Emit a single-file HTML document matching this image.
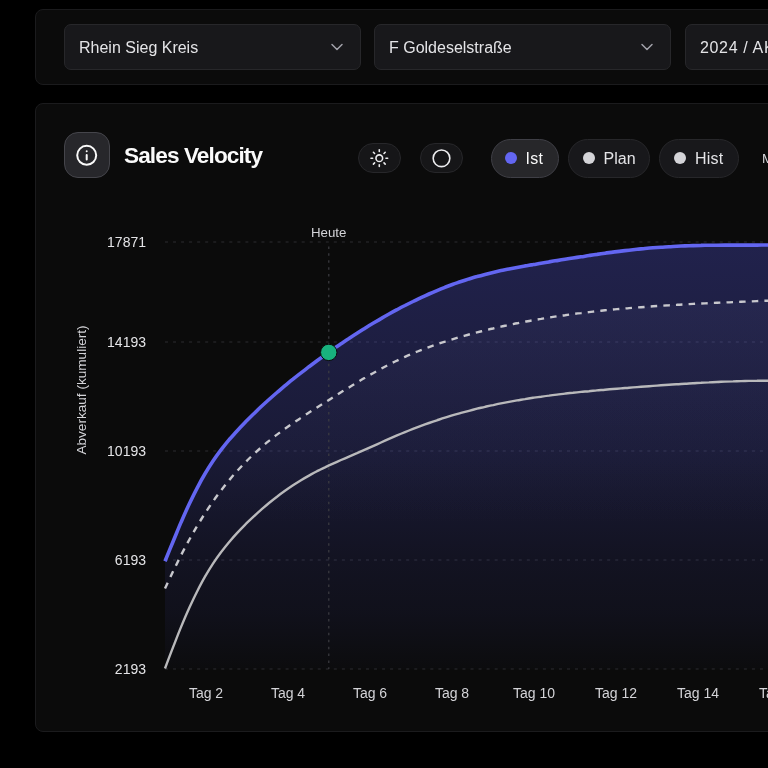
<!DOCTYPE html>
<html lang="de">
<head>
<meta charset="utf-8">
<title>Sales Velocity</title>
<style>
  * { box-sizing: border-box; margin: 0; padding: 0; }
  html, body { width: 768px; height: 768px; overflow: hidden; background: #000; }
  body { font-family: "Liberation Sans", sans-serif; color: #e4e4e7; position: relative; }
  .panel { position: absolute; background: #0b0b0b; border: 1px solid #1b1b1d; border-radius: 8px; }
  #filters { left: 35px; top: 9px; width: 800px; height: 76px; }
  #card { left: 35px; top: 103px; width: 800px; height: 629px; }
  .select { position: absolute; top: 24px; height: 46px; width: 297px; background: #18181b; border: 1px solid #27272a; border-radius: 7px; font-size: 16px; line-height: 46.2px; padding-left: 14px; color: #e4e4e7; white-space: nowrap; overflow: hidden; }
  .select svg { position: absolute; right: 16px; top: 15.3px; }
  #s1 { left: 64px; }
  #s2 { left: 374px; }
  #s3 { left: 685px; width: 200px; letter-spacing: 0.65px; }
  #info { position: absolute; left: 64px; top: 132px; width: 46px; height: 46px; background: #27272b; border: 1px solid #45454b; border-radius: 14px; }
  #info svg { position: absolute; left: 10px; top: 10px; }
  h1 { position: absolute; left: 124px; top: 142.6px; font-size: 22.6px; line-height: 26px; font-weight: bold; letter-spacing: -0.9px; color: #fafafa; white-space: nowrap; }
  .ipill { position: absolute; top: 143px; height: 30px; width: 43px; border-radius: 15px; background: #161618; border: 1px solid #27272a; }
  .ipill svg { position: absolute; left: 10px; top: 4px; }
  .pill { position: absolute; top: 139px; height: 39px; border-radius: 20px; background: #18181b; border: 1px solid #27272a; font-size: 16px; line-height: 37.6px; color: #e4e4e7; white-space: nowrap; }
  .pill.on { background: #27272a; border-color: #3f3f46; color: #fafafa; }
  .pill i { position: absolute; left: 13.5px; top: 11.8px; width: 12px; height: 12px; border-radius: 50%; background: #d4d4d8; }
  .pill span { position: absolute; left: 34.6px; top: 0; }
  #more { position: absolute; left: 762px; top: 150.6px; font-size: 13.5px; line-height: 16px; color: #d4d4d8; white-space: nowrap; }
  svg text { font-family: "Liberation Sans", sans-serif; }
  #chart { position: absolute; left: 0; top: 0; }
  #root { position: absolute; left: 0; top: 0; width: 768px; height: 768px; overflow: hidden; will-change: transform; transform: translateZ(0); }
</style>
</head>
<body>
<div id="root">
  <div class="panel" id="filters"></div>
  <div class="select" id="s1">Rhein Sieg Kreis
    <svg width="14" height="14" viewBox="0 0 14 14" fill="none" stroke="#a1a1aa" stroke-width="1.5" stroke-linecap="round" stroke-linejoin="round"><path d="M2 4.5l5 5 5-5"/></svg>
  </div>
  <div class="select" id="s2">F Goldeselstraße
    <svg width="14" height="14" viewBox="0 0 14 14" fill="none" stroke="#a1a1aa" stroke-width="1.5" stroke-linecap="round" stroke-linejoin="round"><path d="M2 4.5l5 5 5-5"/></svg>
  </div>
  <div class="select" id="s3">2024 / AKTION</div>

  <div class="panel" id="card"></div>
  <div id="info">
    <svg width="24" height="24" viewBox="0.3 -0.3 24 24" fill="none" stroke="#fafafa" stroke-width="2" stroke-linecap="round" stroke-linejoin="round"><circle cx="12" cy="12" r="9.5"/><path d="M12 16.2v-4.4"/><path d="M12 8h.01"/></svg>
  </div>
  <h1>Sales Velocity</h1>

  <div class="ipill" style="left:358px">
    <svg width="20" height="20" viewBox="-0.36 -0.24 24 24" fill="none" stroke="#ececee" stroke-width="1.9" stroke-linecap="round" stroke-linejoin="round"><circle cx="12" cy="12" r="4"/><path d="M12 2v2"/><path d="M12 20v2"/><path d="m4.93 4.93 1.41 1.41"/><path d="m17.66 17.66 1.41 1.41"/><path d="M2 12h2"/><path d="M20 12h2"/><path d="m6.34 17.66-1.41 1.41"/><path d="m19.07 4.93-1.41 1.41"/></svg>
  </div>
  <div class="ipill" style="left:420px">
    <svg width="20" height="20" viewBox="-0.6 -0.36 24 24" fill="none" stroke="#ececee" stroke-width="1.9" stroke-linecap="round" stroke-linejoin="round"><circle cx="12" cy="12" r="10"/></svg>
  </div>

  <div class="pill on" style="left:490.5px;width:68px"><i style="background:#6366f1;left:13px"></i><span style="letter-spacing:.3px;left:34px">Ist</span></div>
  <div class="pill" style="left:568px;width:82px"><i></i><span>Plan</span></div>
  <div class="pill" style="left:659px;width:80px"><i></i><span style="letter-spacing:.25px;left:35px">Hist</span></div>
  <div id="more">Mehr</div>

  <svg id="chart" width="768" height="768" viewBox="0 0 768 768">
    <defs>
      <linearGradient id="gIst" x1="0" y1="242" x2="0" y2="669" gradientUnits="userSpaceOnUse">
        <stop offset="0" stop-color="#5a5df5" stop-opacity="0.28"/>
        <stop offset="0.49" stop-color="#5a5df5" stop-opacity="0.185"/>
        <stop offset="0.74" stop-color="#5a5df5" stop-opacity="0.098"/>
        <stop offset="0.87" stop-color="#5a5df5" stop-opacity="0.068"/>
        <stop offset="1" stop-color="#5a5df5" stop-opacity="0.012"/>
      </linearGradient>
      <linearGradient id="gPlan" x1="0" y1="300" x2="0" y2="520" gradientUnits="userSpaceOnUse">
        <stop offset="0" stop-color="#a9aef0" stop-opacity="0.05"/>
        <stop offset="1" stop-color="#a9aef0" stop-opacity="0"/>
      </linearGradient>
      <linearGradient id="gHist" x1="0" y1="380" x2="0" y2="540" gradientUnits="userSpaceOnUse">
        <stop offset="0" stop-color="#818cf8" stop-opacity="0.018"/>
        <stop offset="1" stop-color="#818cf8" stop-opacity="0"/>
      </linearGradient>
      <clipPath id="clip"><rect x="165" y="200" width="603" height="470"/></clipPath>
    </defs>
    <!-- grid -->
    <g stroke="#2d2d31" stroke-width="1" stroke-dasharray="3 5.04" fill="none">
      <path d="M165 242H768"/>
      <path d="M165 342H768"/>
      <path d="M165 451H768"/>
      <path d="M165 560H768"/>
      <path d="M165 669H768"/>
    </g>
    <g clip-path="url(#clip)">
      <path d="M165.0,561.2C166.3,558.0 170.3,548.2 173.0,541.7C175.7,535.3 178.3,528.6 181.0,522.4C183.7,516.2 186.3,510.2 189.0,504.5C191.7,498.8 194.3,493.4 197.0,488.3C199.7,483.1 202.3,478.3 205.0,473.8C207.7,469.2 210.3,465.0 213.0,461.0C215.7,457.1 218.3,453.4 221.0,449.9C223.7,446.4 226.3,443.1 229.0,439.9C231.7,436.8 234.3,433.8 237.0,430.9C239.7,428.0 242.3,425.3 245.0,422.5C247.7,419.8 250.3,417.1 253.0,414.5C255.7,411.9 258.3,409.3 261.0,406.8C263.7,404.3 266.3,401.9 269.0,399.5C271.7,397.1 274.3,394.8 277.0,392.5C279.7,390.2 282.3,387.9 285.0,385.7C287.7,383.5 290.3,381.3 293.0,379.2C295.7,377.0 298.3,374.9 301.0,372.9C303.7,370.8 306.3,368.8 309.0,366.7C311.7,364.7 314.3,362.8 317.0,360.8C319.7,358.8 322.3,356.9 325.0,355.0C327.7,353.1 330.3,351.2 333.0,349.3C335.7,347.5 338.3,345.6 341.0,343.8C343.7,342.0 346.3,340.2 349.0,338.5C351.7,336.7 354.3,335.0 357.0,333.3C359.7,331.5 362.3,329.9 365.0,328.2C367.7,326.5 370.3,324.9 373.0,323.3C375.7,321.7 378.3,320.1 381.0,318.6C383.7,317.0 386.3,315.5 389.0,314.0C391.7,312.5 394.3,311.1 397.0,309.7C399.7,308.2 402.3,306.8 405.0,305.5C407.7,304.1 410.3,302.8 413.0,301.5C415.7,300.1 418.3,298.9 421.0,297.6C423.7,296.4 426.3,295.2 429.0,294.0C431.7,292.8 434.3,291.7 437.0,290.6C439.7,289.5 442.3,288.4 445.0,287.3C447.7,286.3 450.3,285.3 453.0,284.3C455.7,283.4 458.3,282.4 461.0,281.5C463.7,280.6 466.3,279.8 469.0,278.9C471.7,278.1 474.3,277.3 477.0,276.6C479.7,275.8 482.3,275.1 485.0,274.4C487.7,273.7 490.3,273.1 493.0,272.4C495.7,271.8 498.3,271.2 501.0,270.6C503.7,270.0 506.3,269.5 509.0,268.9C511.7,268.4 514.3,267.9 517.0,267.4C519.7,266.9 522.3,266.4 525.0,265.9C527.7,265.5 530.3,265.0 533.0,264.6C535.7,264.1 538.3,263.7 541.0,263.2C543.7,262.8 546.3,262.4 549.0,261.9C551.7,261.5 554.3,261.1 557.0,260.6C559.7,260.2 562.3,259.8 565.0,259.3C567.7,258.9 570.3,258.5 573.0,258.0C575.7,257.6 578.3,257.2 581.0,256.8C583.7,256.4 586.3,255.9 589.0,255.5C591.7,255.1 594.3,254.7 597.0,254.4C599.7,254.0 602.3,253.6 605.0,253.2C607.7,252.8 610.3,252.5 613.0,252.1C615.7,251.8 618.3,251.4 621.0,251.1C623.7,250.8 626.3,250.5 629.0,250.2C631.7,249.9 634.3,249.6 637.0,249.3C639.7,249.0 642.3,248.8 645.0,248.5C647.7,248.3 650.3,248.1 653.0,247.8C655.7,247.6 658.3,247.4 661.0,247.2C663.7,247.0 666.3,246.9 669.0,246.7C671.7,246.5 674.3,246.4 677.0,246.2C679.7,246.1 682.3,246.0 685.0,245.9C687.7,245.8 690.3,245.7 693.0,245.6C695.7,245.5 698.3,245.4 701.0,245.4C703.7,245.3 706.3,245.3 709.0,245.2C711.7,245.2 714.3,245.2 717.0,245.2C719.7,245.1 722.3,245.1 725.0,245.1C727.7,245.1 730.3,245.1 733.0,245.1C735.7,245.1 738.3,245.1 741.0,245.1C743.7,245.1 746.3,245.1 749.0,245.1C751.7,245.1 754.3,245.1 757.0,245.1C759.7,245.1 762.3,245.0 765.0,245.0C767.7,245.0 771.7,244.9 773.0,244.8L781,669L165,669Z" fill="url(#gIst)"/>
      <path d="M165.0,588.6C166.3,585.8 170.3,577.2 173.0,571.6C175.7,566.1 178.3,560.6 181.0,555.3C183.7,550.1 186.3,545.1 189.0,540.2C191.7,535.4 194.3,530.7 197.0,526.2C199.7,521.8 202.3,517.5 205.0,513.3C207.7,509.2 210.3,505.3 213.0,501.5C215.7,497.6 218.3,494.0 221.0,490.5C223.7,487.0 226.3,483.7 229.0,480.4C231.7,477.2 234.3,474.1 237.0,471.2C239.7,468.2 242.3,465.4 245.0,462.7C247.7,459.9 250.3,457.3 253.0,454.8C255.7,452.3 258.3,449.9 261.0,447.6C263.7,445.2 266.3,443.0 269.0,440.9C271.7,438.7 274.3,436.6 277.0,434.6C279.7,432.6 282.3,430.6 285.0,428.7C287.7,426.8 290.3,425.0 293.0,423.2C295.7,421.3 298.3,419.6 301.0,417.8C303.7,416.1 306.3,414.3 309.0,412.6C311.7,410.9 314.3,409.2 317.0,407.5C319.7,405.8 322.3,404.1 325.0,402.5C327.7,400.8 330.3,399.1 333.0,397.4C335.7,395.7 338.3,394.0 341.0,392.3C343.7,390.7 346.3,389.0 349.0,387.4C351.7,385.7 354.3,384.1 357.0,382.5C359.7,380.9 362.3,379.3 365.0,377.8C367.7,376.2 370.3,374.7 373.0,373.2C375.7,371.7 378.3,370.2 381.0,368.8C383.7,367.3 386.3,365.9 389.0,364.5C391.7,363.2 394.3,361.8 397.0,360.6C399.7,359.3 402.3,358.0 405.0,356.8C407.7,355.6 410.3,354.5 413.0,353.4C415.7,352.2 418.3,351.2 421.0,350.1C423.7,349.1 426.3,348.1 429.0,347.1C431.7,346.1 434.3,345.2 437.0,344.2C439.7,343.3 442.3,342.4 445.0,341.6C447.7,340.7 450.3,339.9 453.0,339.1C455.7,338.3 458.3,337.5 461.0,336.7C463.7,336.0 466.3,335.2 469.0,334.5C471.7,333.8 474.3,333.1 477.0,332.4C479.7,331.7 482.3,331.0 485.0,330.4C487.7,329.7 490.3,329.1 493.0,328.5C495.7,327.8 498.3,327.2 501.0,326.6C503.7,326.0 506.3,325.5 509.0,324.9C511.7,324.4 514.3,323.8 517.0,323.3C519.7,322.7 522.3,322.2 525.0,321.7C527.7,321.2 530.3,320.7 533.0,320.3C535.7,319.8 538.3,319.3 541.0,318.9C543.7,318.4 546.3,318.0 549.0,317.6C551.7,317.1 554.3,316.7 557.0,316.3C559.7,315.9 562.3,315.5 565.0,315.2C567.7,314.8 570.3,314.4 573.0,314.1C575.7,313.7 578.3,313.4 581.0,313.1C583.7,312.7 586.3,312.4 589.0,312.1C591.7,311.8 594.3,311.5 597.0,311.2C599.7,310.9 602.3,310.6 605.0,310.3C607.7,310.1 610.3,309.8 613.0,309.5C615.7,309.3 618.3,309.0 621.0,308.8C623.7,308.6 626.3,308.3 629.0,308.1C631.7,307.9 634.3,307.7 637.0,307.5C639.7,307.3 642.3,307.1 645.0,306.9C647.7,306.7 650.3,306.5 653.0,306.3C655.7,306.1 658.3,305.9 661.0,305.8C663.7,305.6 666.3,305.4 669.0,305.3C671.7,305.1 674.3,304.9 677.0,304.8C679.7,304.6 682.3,304.5 685.0,304.4C687.7,304.2 690.3,304.1 693.0,303.9C695.7,303.8 698.3,303.7 701.0,303.5C703.7,303.4 706.3,303.3 709.0,303.2C711.7,303.0 714.3,302.9 717.0,302.8C719.7,302.7 722.3,302.6 725.0,302.5C727.7,302.3 730.3,302.2 733.0,302.1C735.7,302.0 738.3,301.9 741.0,301.8C743.7,301.7 746.3,301.6 749.0,301.5C751.7,301.3 754.3,301.2 757.0,301.1C759.7,301.0 762.3,300.9 765.0,300.8C767.7,300.7 771.7,300.5 773.0,300.5L781,669L165,669Z" fill="url(#gPlan)"/>
      <path d="M165.0,668.5C166.3,665.0 170.3,654.3 173.0,647.4C175.7,640.5 178.3,633.6 181.0,627.1C183.7,620.6 186.3,614.4 189.0,608.5C191.7,602.6 194.3,596.9 197.0,591.7C199.7,586.4 202.3,581.4 205.0,576.7C207.7,572.1 210.3,567.8 213.0,563.7C215.7,559.6 218.3,555.8 221.0,552.3C223.7,548.7 226.3,545.4 229.0,542.2C231.7,539.0 234.3,536.0 237.0,533.1C239.7,530.2 242.3,527.5 245.0,524.8C247.7,522.2 250.3,519.6 253.0,517.1C255.7,514.6 258.3,512.1 261.0,509.8C263.7,507.5 266.3,505.2 269.0,503.0C271.7,500.8 274.3,498.7 277.0,496.7C279.7,494.6 282.3,492.7 285.0,490.8C287.7,488.9 290.3,487.1 293.0,485.3C295.7,483.6 298.3,481.9 301.0,480.2C303.7,478.6 306.3,477.1 309.0,475.6C311.7,474.1 314.3,472.6 317.0,471.2C319.7,469.9 322.3,468.5 325.0,467.3C327.7,466.0 330.3,464.8 333.0,463.6C335.7,462.4 338.3,461.2 341.0,460.0C343.7,458.9 346.3,457.8 349.0,456.6C351.7,455.5 354.3,454.3 357.0,453.2C359.7,452.0 362.3,450.9 365.0,449.7C367.7,448.5 370.3,447.3 373.0,446.1C375.7,444.9 378.3,443.7 381.0,442.5C383.7,441.3 386.3,440.1 389.0,438.9C391.7,437.7 394.3,436.6 397.0,435.4C399.7,434.3 402.3,433.2 405.0,432.1C407.7,431.0 410.3,430.0 413.0,428.9C415.7,427.9 418.3,426.9 421.0,425.9C423.7,424.9 426.3,424.0 429.0,423.0C431.7,422.1 434.3,421.2 437.0,420.3C439.7,419.4 442.3,418.5 445.0,417.7C447.7,416.9 450.3,416.0 453.0,415.2C455.7,414.5 458.3,413.7 461.0,412.9C463.7,412.2 466.3,411.5 469.0,410.8C471.7,410.1 474.3,409.4 477.0,408.7C479.7,408.1 482.3,407.4 485.0,406.8C487.7,406.2 490.3,405.6 493.0,405.1C495.7,404.5 498.3,403.9 501.0,403.4C503.7,402.9 506.3,402.4 509.0,401.9C511.7,401.4 514.3,400.9 517.0,400.4C519.7,400.0 522.3,399.5 525.0,399.1C527.7,398.6 530.3,398.2 533.0,397.8C535.7,397.4 538.3,397.0 541.0,396.7C543.7,396.3 546.3,395.9 549.0,395.6C551.7,395.2 554.3,394.9 557.0,394.6C559.7,394.3 562.3,393.9 565.0,393.6C567.7,393.3 570.3,393.0 573.0,392.8C575.7,392.5 578.3,392.2 581.0,391.9C583.7,391.7 586.3,391.4 589.0,391.2C591.7,390.9 594.3,390.7 597.0,390.4C599.7,390.2 602.3,389.9 605.0,389.7C607.7,389.5 610.3,389.3 613.0,389.0C615.7,388.8 618.3,388.6 621.0,388.4C623.7,388.2 626.3,387.9 629.0,387.7C631.7,387.5 634.3,387.3 637.0,387.1C639.7,386.9 642.3,386.7 645.0,386.5C647.7,386.3 650.3,386.1 653.0,385.9C655.7,385.7 658.3,385.5 661.0,385.3C663.7,385.1 666.3,384.9 669.0,384.7C671.7,384.6 674.3,384.4 677.0,384.2C679.7,384.0 682.3,383.9 685.0,383.7C687.7,383.5 690.3,383.4 693.0,383.2C695.7,383.1 698.3,382.9 701.0,382.8C703.7,382.6 706.3,382.5 709.0,382.4C711.7,382.2 714.3,382.1 717.0,382.0C719.7,381.9 722.3,381.7 725.0,381.6C727.7,381.5 730.3,381.4 733.0,381.4C735.7,381.3 738.3,381.2 741.0,381.1C743.7,381.0 746.3,381.0 749.0,380.9C751.7,380.9 754.3,380.8 757.0,380.8C759.7,380.7 762.3,380.7 765.0,380.7C767.7,380.7 771.7,380.7 773.0,380.7L781,669L165,669Z" fill="url(#gHist)"/>
    </g>
    <path d="M328.8 246.45V669" stroke="#3d3d43" stroke-width="1.2" stroke-dasharray="2.5 4.4" fill="none"/>
    <g fill="none" stroke-linecap="butt" stroke-linejoin="round">
      <path d="M165.0,668.5C166.3,665.0 170.3,654.3 173.0,647.4C175.7,640.5 178.3,633.6 181.0,627.1C183.7,620.6 186.3,614.4 189.0,608.5C191.7,602.6 194.3,596.9 197.0,591.7C199.7,586.4 202.3,581.4 205.0,576.7C207.7,572.1 210.3,567.8 213.0,563.7C215.7,559.6 218.3,555.8 221.0,552.3C223.7,548.7 226.3,545.4 229.0,542.2C231.7,539.0 234.3,536.0 237.0,533.1C239.7,530.2 242.3,527.5 245.0,524.8C247.7,522.2 250.3,519.6 253.0,517.1C255.7,514.6 258.3,512.1 261.0,509.8C263.7,507.5 266.3,505.2 269.0,503.0C271.7,500.8 274.3,498.7 277.0,496.7C279.7,494.6 282.3,492.7 285.0,490.8C287.7,488.9 290.3,487.1 293.0,485.3C295.7,483.6 298.3,481.9 301.0,480.2C303.7,478.6 306.3,477.1 309.0,475.6C311.7,474.1 314.3,472.6 317.0,471.2C319.7,469.9 322.3,468.5 325.0,467.3C327.7,466.0 330.3,464.8 333.0,463.6C335.7,462.4 338.3,461.2 341.0,460.0C343.7,458.9 346.3,457.8 349.0,456.6C351.7,455.5 354.3,454.3 357.0,453.2C359.7,452.0 362.3,450.9 365.0,449.7C367.7,448.5 370.3,447.3 373.0,446.1C375.7,444.9 378.3,443.7 381.0,442.5C383.7,441.3 386.3,440.1 389.0,438.9C391.7,437.7 394.3,436.6 397.0,435.4C399.7,434.3 402.3,433.2 405.0,432.1C407.7,431.0 410.3,430.0 413.0,428.9C415.7,427.9 418.3,426.9 421.0,425.9C423.7,424.9 426.3,424.0 429.0,423.0C431.7,422.1 434.3,421.2 437.0,420.3C439.7,419.4 442.3,418.5 445.0,417.7C447.7,416.9 450.3,416.0 453.0,415.2C455.7,414.5 458.3,413.7 461.0,412.9C463.7,412.2 466.3,411.5 469.0,410.8C471.7,410.1 474.3,409.4 477.0,408.7C479.7,408.1 482.3,407.4 485.0,406.8C487.7,406.2 490.3,405.6 493.0,405.1C495.7,404.5 498.3,403.9 501.0,403.4C503.7,402.9 506.3,402.4 509.0,401.9C511.7,401.4 514.3,400.9 517.0,400.4C519.7,400.0 522.3,399.5 525.0,399.1C527.7,398.6 530.3,398.2 533.0,397.8C535.7,397.4 538.3,397.0 541.0,396.7C543.7,396.3 546.3,395.9 549.0,395.6C551.7,395.2 554.3,394.9 557.0,394.6C559.7,394.3 562.3,393.9 565.0,393.6C567.7,393.3 570.3,393.0 573.0,392.8C575.7,392.5 578.3,392.2 581.0,391.9C583.7,391.7 586.3,391.4 589.0,391.2C591.7,390.9 594.3,390.7 597.0,390.4C599.7,390.2 602.3,389.9 605.0,389.7C607.7,389.5 610.3,389.3 613.0,389.0C615.7,388.8 618.3,388.6 621.0,388.4C623.7,388.2 626.3,387.9 629.0,387.7C631.7,387.5 634.3,387.3 637.0,387.1C639.7,386.9 642.3,386.7 645.0,386.5C647.7,386.3 650.3,386.1 653.0,385.9C655.7,385.7 658.3,385.5 661.0,385.3C663.7,385.1 666.3,384.9 669.0,384.7C671.7,384.6 674.3,384.4 677.0,384.2C679.7,384.0 682.3,383.9 685.0,383.7C687.7,383.5 690.3,383.4 693.0,383.2C695.7,383.1 698.3,382.9 701.0,382.8C703.7,382.6 706.3,382.5 709.0,382.4C711.7,382.2 714.3,382.1 717.0,382.0C719.7,381.9 722.3,381.7 725.0,381.6C727.7,381.5 730.3,381.4 733.0,381.4C735.7,381.3 738.3,381.2 741.0,381.1C743.7,381.0 746.3,381.0 749.0,380.9C751.7,380.9 754.3,380.8 757.0,380.8C759.7,380.7 762.3,380.7 765.0,380.7C767.7,380.7 771.7,380.7 773.0,380.7" stroke="#b9b9bb" stroke-width="2.4"/>
      <path d="M165.0,588.6C166.3,585.8 170.3,577.2 173.0,571.6C175.7,566.1 178.3,560.6 181.0,555.3C183.7,550.1 186.3,545.1 189.0,540.2C191.7,535.4 194.3,530.7 197.0,526.2C199.7,521.8 202.3,517.5 205.0,513.3C207.7,509.2 210.3,505.3 213.0,501.5C215.7,497.6 218.3,494.0 221.0,490.5C223.7,487.0 226.3,483.7 229.0,480.4C231.7,477.2 234.3,474.1 237.0,471.2C239.7,468.2 242.3,465.4 245.0,462.7C247.7,459.9 250.3,457.3 253.0,454.8C255.7,452.3 258.3,449.9 261.0,447.6C263.7,445.2 266.3,443.0 269.0,440.9C271.7,438.7 274.3,436.6 277.0,434.6C279.7,432.6 282.3,430.6 285.0,428.7C287.7,426.8 290.3,425.0 293.0,423.2C295.7,421.3 298.3,419.6 301.0,417.8C303.7,416.1 306.3,414.3 309.0,412.6C311.7,410.9 314.3,409.2 317.0,407.5C319.7,405.8 322.3,404.1 325.0,402.5C327.7,400.8 330.3,399.1 333.0,397.4C335.7,395.7 338.3,394.0 341.0,392.3C343.7,390.7 346.3,389.0 349.0,387.4C351.7,385.7 354.3,384.1 357.0,382.5C359.7,380.9 362.3,379.3 365.0,377.8C367.7,376.2 370.3,374.7 373.0,373.2C375.7,371.7 378.3,370.2 381.0,368.8C383.7,367.3 386.3,365.9 389.0,364.5C391.7,363.2 394.3,361.8 397.0,360.6C399.7,359.3 402.3,358.0 405.0,356.8C407.7,355.6 410.3,354.5 413.0,353.4C415.7,352.2 418.3,351.2 421.0,350.1C423.7,349.1 426.3,348.1 429.0,347.1C431.7,346.1 434.3,345.2 437.0,344.2C439.7,343.3 442.3,342.4 445.0,341.6C447.7,340.7 450.3,339.9 453.0,339.1C455.7,338.3 458.3,337.5 461.0,336.7C463.7,336.0 466.3,335.2 469.0,334.5C471.7,333.8 474.3,333.1 477.0,332.4C479.7,331.7 482.3,331.0 485.0,330.4C487.7,329.7 490.3,329.1 493.0,328.5C495.7,327.8 498.3,327.2 501.0,326.6C503.7,326.0 506.3,325.5 509.0,324.9C511.7,324.4 514.3,323.8 517.0,323.3C519.7,322.7 522.3,322.2 525.0,321.7C527.7,321.2 530.3,320.7 533.0,320.3C535.7,319.8 538.3,319.3 541.0,318.9C543.7,318.4 546.3,318.0 549.0,317.6C551.7,317.1 554.3,316.7 557.0,316.3C559.7,315.9 562.3,315.5 565.0,315.2C567.7,314.8 570.3,314.4 573.0,314.1C575.7,313.7 578.3,313.4 581.0,313.1C583.7,312.7 586.3,312.4 589.0,312.1C591.7,311.8 594.3,311.5 597.0,311.2C599.7,310.9 602.3,310.6 605.0,310.3C607.7,310.1 610.3,309.8 613.0,309.5C615.7,309.3 618.3,309.0 621.0,308.8C623.7,308.6 626.3,308.3 629.0,308.1C631.7,307.9 634.3,307.7 637.0,307.5C639.7,307.3 642.3,307.1 645.0,306.9C647.7,306.7 650.3,306.5 653.0,306.3C655.7,306.1 658.3,305.9 661.0,305.8C663.7,305.6 666.3,305.4 669.0,305.3C671.7,305.1 674.3,304.9 677.0,304.8C679.7,304.6 682.3,304.5 685.0,304.4C687.7,304.2 690.3,304.1 693.0,303.9C695.7,303.8 698.3,303.7 701.0,303.5C703.7,303.4 706.3,303.3 709.0,303.2C711.7,303.0 714.3,302.9 717.0,302.8C719.7,302.7 722.3,302.6 725.0,302.5C727.7,302.3 730.3,302.2 733.0,302.1C735.7,302.0 738.3,301.9 741.0,301.8C743.7,301.7 746.3,301.6 749.0,301.5C751.7,301.3 754.3,301.2 757.0,301.1C759.7,301.0 762.3,300.9 765.0,300.8C767.7,300.7 771.7,300.5 773.0,300.5" stroke="#c8c8cd" stroke-width="2.4" stroke-dasharray="6.5 6.15"/>
      <path d="M165.0,561.2C166.3,558.0 170.3,548.2 173.0,541.7C175.7,535.3 178.3,528.6 181.0,522.4C183.7,516.2 186.3,510.2 189.0,504.5C191.7,498.8 194.3,493.4 197.0,488.3C199.7,483.1 202.3,478.3 205.0,473.8C207.7,469.2 210.3,465.0 213.0,461.0C215.7,457.1 218.3,453.4 221.0,449.9C223.7,446.4 226.3,443.1 229.0,439.9C231.7,436.8 234.3,433.8 237.0,430.9C239.7,428.0 242.3,425.3 245.0,422.5C247.7,419.8 250.3,417.1 253.0,414.5C255.7,411.9 258.3,409.3 261.0,406.8C263.7,404.3 266.3,401.9 269.0,399.5C271.7,397.1 274.3,394.8 277.0,392.5C279.7,390.2 282.3,387.9 285.0,385.7C287.7,383.5 290.3,381.3 293.0,379.2C295.7,377.0 298.3,374.9 301.0,372.9C303.7,370.8 306.3,368.8 309.0,366.7C311.7,364.7 314.3,362.8 317.0,360.8C319.7,358.8 322.3,356.9 325.0,355.0C327.7,353.1 330.3,351.2 333.0,349.3C335.7,347.5 338.3,345.6 341.0,343.8C343.7,342.0 346.3,340.2 349.0,338.5C351.7,336.7 354.3,335.0 357.0,333.3C359.7,331.5 362.3,329.9 365.0,328.2C367.7,326.5 370.3,324.9 373.0,323.3C375.7,321.7 378.3,320.1 381.0,318.6C383.7,317.0 386.3,315.5 389.0,314.0C391.7,312.5 394.3,311.1 397.0,309.7C399.7,308.2 402.3,306.8 405.0,305.5C407.7,304.1 410.3,302.8 413.0,301.5C415.7,300.1 418.3,298.9 421.0,297.6C423.7,296.4 426.3,295.2 429.0,294.0C431.7,292.8 434.3,291.7 437.0,290.6C439.7,289.5 442.3,288.4 445.0,287.3C447.7,286.3 450.3,285.3 453.0,284.3C455.7,283.4 458.3,282.4 461.0,281.5C463.7,280.6 466.3,279.8 469.0,278.9C471.7,278.1 474.3,277.3 477.0,276.6C479.7,275.8 482.3,275.1 485.0,274.4C487.7,273.7 490.3,273.1 493.0,272.4C495.7,271.8 498.3,271.2 501.0,270.6C503.7,270.0 506.3,269.5 509.0,268.9C511.7,268.4 514.3,267.9 517.0,267.4C519.7,266.9 522.3,266.4 525.0,265.9C527.7,265.5 530.3,265.0 533.0,264.6C535.7,264.1 538.3,263.7 541.0,263.2C543.7,262.8 546.3,262.4 549.0,261.9C551.7,261.5 554.3,261.1 557.0,260.6C559.7,260.2 562.3,259.8 565.0,259.3C567.7,258.9 570.3,258.5 573.0,258.0C575.7,257.6 578.3,257.2 581.0,256.8C583.7,256.4 586.3,255.9 589.0,255.5C591.7,255.1 594.3,254.7 597.0,254.4C599.7,254.0 602.3,253.6 605.0,253.2C607.7,252.8 610.3,252.5 613.0,252.1C615.7,251.8 618.3,251.4 621.0,251.1C623.7,250.8 626.3,250.5 629.0,250.2C631.7,249.9 634.3,249.6 637.0,249.3C639.7,249.0 642.3,248.8 645.0,248.5C647.7,248.3 650.3,248.1 653.0,247.8C655.7,247.6 658.3,247.4 661.0,247.2C663.7,247.0 666.3,246.9 669.0,246.7C671.7,246.5 674.3,246.4 677.0,246.2C679.7,246.1 682.3,246.0 685.0,245.9C687.7,245.8 690.3,245.7 693.0,245.6C695.7,245.5 698.3,245.4 701.0,245.4C703.7,245.3 706.3,245.3 709.0,245.2C711.7,245.2 714.3,245.2 717.0,245.2C719.7,245.1 722.3,245.1 725.0,245.1C727.7,245.1 730.3,245.1 733.0,245.1C735.7,245.1 738.3,245.1 741.0,245.1C743.7,245.1 746.3,245.1 749.0,245.1C751.7,245.1 754.3,245.1 757.0,245.1C759.7,245.1 762.3,245.0 765.0,245.0C767.7,245.0 771.7,244.9 773.0,244.8" stroke="#6366f1" stroke-width="3.6"/>
    </g>
    <circle cx="328.75" cy="352.4" r="8.2" fill="#18b27e" stroke="#0b0b0b" stroke-width="1"/>
    <!-- labels -->
    <g font-size="14" fill="#e4e4e7" text-anchor="end">
      <text x="146" y="247">17871</text>
      <text x="146" y="347">14193</text>
      <text x="146" y="456">10193</text>
      <text x="146" y="565">6193</text>
      <text x="146" y="674">2193</text>
    </g>
    <g font-size="14" fill="#d4d4d8" text-anchor="middle">
      <text x="206" y="697.5">Tag 2</text>
      <text x="288" y="697.5">Tag 4</text>
      <text x="370" y="697.5">Tag 6</text>
      <text x="452" y="697.5">Tag 8</text>
      <text x="534" y="697.5">Tag 10</text>
      <text x="616" y="697.5">Tag 12</text>
      <text x="698" y="697.5">Tag 14</text>
      <text x="780" y="697.5">Tag 16</text>
    </g>
    <text x="328.7" y="236.6" font-size="13.3" fill="#d4d4d8" text-anchor="middle">Heute</text>
    <text transform="translate(85.5 390) rotate(-90)" font-size="13.6" fill="#d4d4d8" text-anchor="middle">Abverkauf (kumuliert)</text>
  </svg>
</div>
</body>
</html>
